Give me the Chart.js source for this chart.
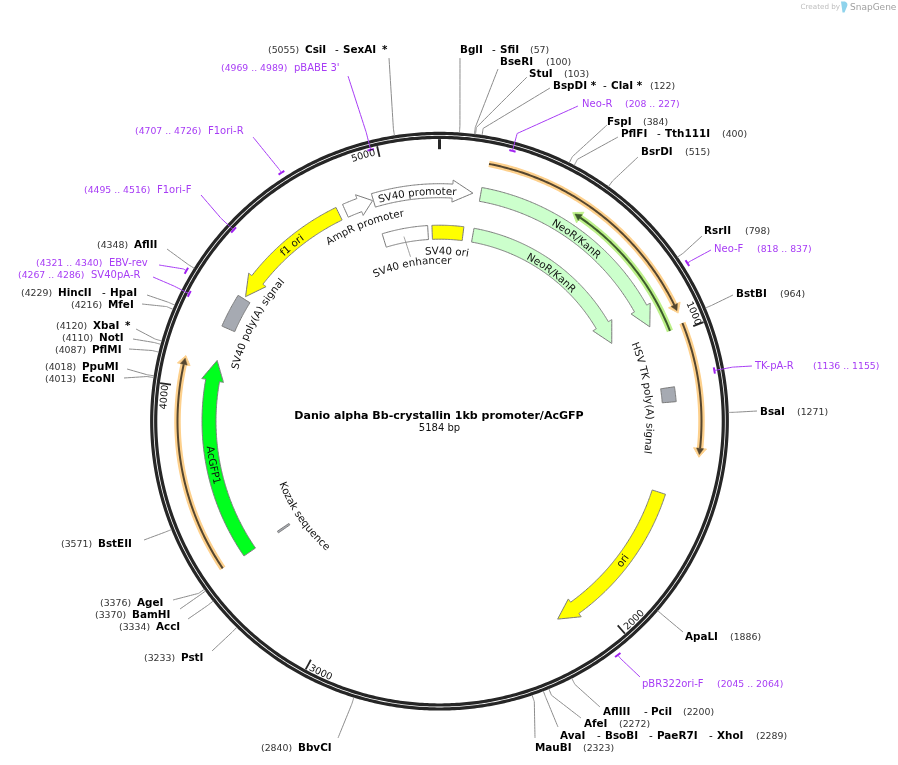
<!DOCTYPE html>
<html><head><meta charset="utf-8">
<style>html,body{margin:0;padding:0;background:#fff}canvas{display:block}</style>
<script src="https://cdn.jsdelivr.net/npm/chart.js@4"></script>
</head><body><canvas id="c" width="898" height="765"></canvas>
<script>
// ---------- data ----------
const plasmidName = "Danio alpha Bb-crystallin 1kb promoter/AcGFP";
const plasmidLength = 5184;
const tickSites = [1000, 2000, 3000, 4000, 5000];

const featureNames  = ["SV40 promoter","AmpR promoter","f1 ori","SV40 poly(A) signal","NeoR/KanR","NeoR/KanR","HSV TK poly(A) signal","ori","AcGFP1","Kozak sequence","SV40 enhancer","SV40 ori"];
const featureStart  = [4944,4837,4359,4228,148,146,1176,1554,3390,3388,4939,5152];
const featureEnd    = [120,4941,4812,4349,948,946,1228,2148,4108,3396,5134,103];
const featureStrand = [1,1,-1,0,1,1,0,1,1,0,0,0];

const orfStart  = [157,979,3396,469];
const orfEnd    = [945,1410,4097,988];
const orfStrand = [1,1,1,-1];

const enzymeNames = ["CsiI - SexAI *","BglI - SfiI","BseRI","StuI","BspDI * - ClaI *","FspI","PflFI - Tth111I","BsrDI","RsrII","BstBI","BsaI","ApaLI","AflIII - PciI","AfeI","AvaI - BsoBI - PaeR7I - XhoI","MauBI","BbvCI","PstI","AccI","BamHI","AgeI","BstEII","EcoNI","PpuMI","PflMI","NotI","XbaI *","MfeI","HincII - HpaI","AflII"];
const enzymeSites = [5055,57,100,103,122,384,400,515,798,964,1271,1886,2200,2272,2289,2323,2840,3233,3334,3370,3376,3571,4013,4018,4087,4110,4120,4216,4229,4348];

const primerNames = ["pBABE 3'","F1ori-R","F1ori-F","EBV-rev","SV40pA-R","Neo-R","Neo-F","TK-pA-R","pBR322ori-F"];
const primerStart = [4969,4707,4495,4321,4267,208,818,1136,2045];
const primerEnd   = [4989,4726,4516,4340,4286,227,837,1155,2064];

// ---------- layout and style (pixels, not data) ----------
const CX = 439.5, CY = 421.2, W = 898, H = 765;
const RING_OUT = 287.8, RING_IN = 283.8;
const F_OUT = 230.5, F_IN = 189;
const PURPLE = "#a73cf5", NUMC = "#333", BOLD = "bold 10.4px 'DejaVu Sans'", NUMF = "9.4px 'DejaVu Sans'", PRIF = "10px 'DejaVu Sans'", INF = "10.3px 'DejaVu Sans'";

const featureLook = [
 {r:F_OUT, c:"#ffffff", lab:[226.5,-5.6,0]},
 {r:F_OUT, c:"#ffffff", head:14, lab:[208,-21,0]},
 {r:F_OUT, c:"#ffff00", lab:[226.5,-40,0]},
 {r:F_OUT, c:"#a6aab2", lab:[208,-61.9,0]},
 {r:F_OUT, c:"#ccffcc", lab:[226,36.9,0]},
 {r:F_IN,  c:"#ccffcc", lab:[184,37,0]},
 {r:F_OUT, c:"#a6aab2", lab:[207,83.5,0]},
 {r:F_OUT, c:"#ffff00", lab:[233.5,127.3,1]},
 {r:F_OUT, c:"#00ff1e", lab:[234,259,1]},
 {r:F_IN,  c:"#a6aab2", lab:[172,234.9,1]},
 {r:F_IN,  c:"#ffffff", lab:[157.5,-10,0]},
 {r:F_IN,  c:"#ffff00", lab:[167,2.5,0]}
];
const orfLook = [["#fdd08c","#55462f"],["#fdd08c","#55462f"],["#fdd08c","#55462f"],["#bdf08a","#3c5a2c"]];

// [x end of leader, y end of leader]
const enzymeEnds = [[389,58],[460,58],[498,69],[527,77],[550,88],[607,125],[618,137],[638,157],[702,236],[733,295],[757,411],[683,632],[600,707],[581,718],[558,727],[535,738],[338,738],[212,651],[188,619],[180,609],[173,600],[144,540],[124,378],[127,369],[129,349],[133,339],[136,329],[142,304],[147,295],[167,249]];
const primerEnds = [[348,76],[253,137],[201,195],[159,265],[153,277],[578,106],[711,250],[752,366],[640,677]];
const primerR    = [280,294.5,281,294.5,280.8,280,294,279.5,294];

// rows of text runs: y, then [x, text, kind]; b=bold name, n=number, p=primer name, q=primer range
const textRows = [
 [50,[268,"(5055)","n"],[305,"CsiI","b"],[335,"-","b0"],[343,"SexAI","b"],[382,"*","b"]],
 [68,[221,"(4969 .. 4989)","q"],[294,"pBABE 3'","p"]],
 [50,[460,"BglI","b"],[492,"-","b0"],[500,"SfiI","b"],[530,"(57)","n"]],
 [62,[500,"BseRI","b"],[546,"(100)","n"]],
 [74,[529,"StuI","b"],[564,"(103)","n"]],
 [86,[553,"BspDI *","b"],[603,"-","b0"],[611,"ClaI *","b"],[650,"(122)","n"]],
 [104,[582,"Neo-R","p"],[625,"(208 .. 227)","q"]],
 [122,[607,"FspI","b"],[643,"(384)","n"]],
 [134,[621,"PflFI","b"],[657,"-","b0"],[665,"Tth111I","b"],[722,"(400)","n"]],
 [152,[641,"BsrDI","b"],[685,"(515)","n"]],
 [231,[704,"RsrII","b"],[745,"(798)","n"]],
 [249,[714,"Neo-F","p"],[757,"(818 .. 837)","q"]],
 [294,[736,"BstBI","b"],[780,"(964)","n"]],
 [366,[755,"TK-pA-R","p"],[813,"(1136 .. 1155)","q"]],
 [412,[760,"BsaI","b"],[797,"(1271)","n"]],
 [637,[685,"ApaLI","b"],[730,"(1886)","n"]],
 [684,[642,"pBR322ori-F","p"],[717,"(2045 .. 2064)","q"]],
 [712,[603,"AflIII","b"],[644,"-","b0"],[651,"PciI","b"],[683,"(2200)","n"]],
 [724,[584,"AfeI","b"],[619,"(2272)","n"]],
 [736,[560,"AvaI","b"],[597,"-","b0"],[605,"BsoBI","b"],[649,"-","b0"],[657,"PaeR7I","b"],[709,"-","b0"],[717,"XhoI","b"],[756,"(2289)","n"]],
 [748,[535,"MauBI","b"],[583,"(2323)","n"]],
 [748,[261,"(2840)","n"],[298,"BbvCI","b"]],
 [658,[144,"(3233)","n"],[181,"PstI","b"]],
 [627,[119,"(3334)","n"],[156,"AccI","b"]],
 [615,[95,"(3370)","n"],[132,"BamHI","b"]],
 [603,[100,"(3376)","n"],[137,"AgeI","b"]],
 [544,[61,"(3571)","n"],[98,"BstEII","b"]],
 [379,[45,"(4013)","n"],[82,"EcoNI","b"]],
 [367,[45,"(4018)","n"],[82,"PpuMI","b"]],
 [350,[55,"(4087)","n"],[92,"PflMI","b"]],
 [338,[62,"(4110)","n"],[99,"NotI","b"]],
 [326,[56,"(4120)","n"],[93,"XbaI","b"],[125,"*","b"]],
 [305,[71,"(4216)","n"],[108,"MfeI","b"]],
 [293,[21,"(4229)","n"],[58,"HincII","b"],[102,"-","b0"],[110,"HpaI","b"]],
 [245,[97,"(4348)","n"],[134,"AflII","b"]],
 [275,[18,"(4267 .. 4286)","q"],[91,"SV40pA-R","p"]],
 [263,[36,"(4321 .. 4340)","q"],[109,"EBV-rev","p"]],
 [190,[84,"(4495 .. 4516)","q"],[157,"F1ori-F","p"]],
 [131,[135,"(4707 .. 4726)","q"],[208,"F1ori-R","p"]]
];
const tickLook = [[67,0],[135.6,1],[205.3,1],[275,0],[-16,0]];

// ---------- geometry from bp ----------
const deg = bp => bp / plasmidLength * 360;
const rad = d => d * Math.PI / 180;
const polarDeg = (d, r) => ({x: r * Math.sin(rad(d)), y: r * Math.cos(rad(d))});
const polar = (bp, r) => polarDeg(deg(bp), r);
const fromPx = (x, y) => ({x: x - CX, y: CY - y});

function arcPts(d0, d1, r) {
  const n = Math.max(1, Math.ceil(Math.abs(d1 - d0)));
  const out = [];
  for (let i = 0; i <= n; i++) out.push(polarDeg(d0 + (d1 - d0) * i / n, r));
  return out;
}
function span(s, e) { let a = deg(s), b = deg(e); if (b < a) b += 360; return [a, b]; }

const datasets = [];
function add(data, o) {
  // a very small tension keeps Chart.js off its per-pixel "fast path", which would facet near-vertical arcs
  datasets.push(Object.assign({type:"scatter", data, showLine:true, pointRadius:0, pointHoverRadius:0, tension:0.001,
    borderColor:"#000", borderWidth:1, backgroundColor:"transparent", fill:false, order:-datasets.length,
    borderCapStyle:"butt", borderJoinStyle:"miter"}, o));
}

// backbone
add(arcPts(0,360,RING_OUT), {label:"backbone outer", borderColor:"#262626", borderWidth:3.2});
add(arcPts(0,360,RING_IN),  {label:"backbone inner", borderColor:"#262626", borderWidth:3.2});
// ticks
add([polarDeg(0,282),polarDeg(0,272)], {label:"origin", borderColor:"#262626", borderWidth:3});
tickSites.forEach(t => add([polar(t,282),polar(t,271)], {label:"tick "+t, borderColor:"#262626", borderWidth:1.8}));

// features
featureNames.forEach((name,i) => {
  const L = featureLook[i], [a,b] = span(featureStart[i], featureEnd[i]);
  const ro = L.r + 7, ri = L.r - 7, pts = [];
  const sd = featureStrand[i];
  if (sd === 0) {
    pts.push(...arcPts(a,b,ro), ...arcPts(b,a,ri));
  } else {
    const hd = (L.head || 20.5) / L.r * 180 / Math.PI;
    const tail = sd > 0 ? a : b, tip = sd > 0 ? b : a, base = tip - sd * hd;
    pts.push(...arcPts(tail,base,ro), polarDeg(base,L.r+11), polarDeg(tip,L.r), polarDeg(base,L.r-11), ...arcPts(base,tail,ri));
  }
  pts.push(pts[0]);
  add(pts, {label:name, fill:"shape", backgroundColor:L.c, borderColor:"#7a7a7a", borderWidth:1});
});
// enhancer callout
add([polarDeg(-10.9,188),polarDeg(-10,167)], {label:"SV40 enhancer leader", borderColor:"#888", borderWidth:.8});

// open reading frames
const ORF_R = [262,262,262,247.5];
orfStart.forEach((s,i) => {
  const [a,b] = span(s, orfEnd[i]), sd = orfStrand[i], r = ORF_R[i];
  const tail = sd>0?a:b, tip = sd>0?b:a, hd = 9/r*180/Math.PI, base = tip - sd*hd;
  add(arcPts(tail,base,r), {label:"orf halo", borderColor:orfLook[i][0], borderWidth:6.5});
  add([polarDeg(base,r+6.5),polarDeg(tip,r),polarDeg(base,r-6.5),polarDeg(base,r+6.5)], {label:"orf head halo", fill:"shape", backgroundColor:orfLook[i][0], borderColor:orfLook[i][0], borderWidth:1});
  add(arcPts(tail,base,r), {label:"orf", borderColor:orfLook[i][1], borderWidth:2});
  add([polarDeg(base,r+3.5),polarDeg(tip+(-sd*0.6),r),polarDeg(base,r-3.5),polarDeg(base,r+3.5)], {label:"orf head", fill:"shape", backgroundColor:orfLook[i][1], borderColor:orfLook[i][1], borderWidth:.5});
});

// enzyme leaders
enzymeNames.forEach((name,i) => {
  const p = enzymeEnds[i];
  add([polar(enzymeSites[i],289), polar(enzymeSites[i],296), fromPx(p[0],p[1])], {label:name, borderColor:"#8c8c8c", borderWidth:1, borderJoinStyle:"round"});
});
// primers
primerNames.forEach((name,i) => {
  const [a,b] = span(primerStart[i], primerEnd[i]), r = primerR[i], m = (a+b)/2, p = primerEnds[i];
  add(arcPts(a,b,r), {label:name, borderColor:"#a01ff0", borderWidth:2});
  add([polarDeg(m,r), polarDeg(m,Math.max(r,298)), fromPx(p[0],p[1])], {label:name+" leader", borderColor:PURPLE, borderWidth:1, borderJoinStyle:"round"});
});

// ---------- text ----------
function arcText(ctx, text, font, color, dCenter, rBase, flip) {
  ctx.save();
  ctx.font = font; ctx.fillStyle = color; ctx.textAlign = "left"; ctx.textBaseline = "alphabetic";
  const total = ctx.measureText(text).width, dir = flip ? -1 : 1;
  let pos = -total / 2;
  for (let i = 0; i < text.length; i++) {
    const w = ctx.measureText(text.slice(0,i+1)).width - ctx.measureText(text.slice(0,i)).width;
    const ang = rad(dCenter) + dir * (pos + w/2) / rBase;
    const x = CX + rBase * Math.sin(ang), y = CY - rBase * Math.cos(ang);
    ctx.save();
    ctx.translate(x, y);
    ctx.rotate(flip ? ang + Math.PI : ang);
    ctx.fillText(text[i], -w/2, 0);
    ctx.restore();
    pos += w;
  }
  ctx.restore();
}
const labels = {
  id:"labels",
  afterDatasetsDraw(chart) {
    const ctx = chart.ctx;
    ctx.save();
    ctx.textBaseline = "middle"; ctx.textAlign = "left";
    textRows.forEach(row => {
      const y = row[0] + 0.6;
      row.slice(1).forEach(([x,t,k]) => {
        ctx.font = k==="n"?NUMF : k==="q"?"9.3px 'DejaVu Sans'" : k==="p"?PRIF : k==="b0"?"10.4px 'DejaVu Sans'" : BOLD;
        ctx.fillStyle = k==="n"?NUMC : (k==="q"||k==="p")?PURPLE : "#000";
        ctx.fillText(t,x,y);
      });
    });
    // title
    ctx.textAlign = "center";
    ctx.font = "bold 11.05px 'DejaVu Sans'"; ctx.fillStyle="#000";
    ctx.fillText(plasmidName, 439, 416);
    ctx.font = "10px 'DejaVu Sans'"; ctx.fillStyle="#111";
    ctx.fillText(plasmidLength + " bp", 439.5, 428.5);
    // credit
    ctx.textAlign = "left";
    ctx.font = "7.2px 'DejaVu Sans'"; ctx.fillStyle="#bdbdbd";
    ctx.fillText("Created by", 800.5, 7.5);
    ctx.font = "9px 'DejaVu Sans'"; ctx.fillStyle="#a0a0a0";
    ctx.fillText("SnapGene", 850, 7.5);
    // credit logo
    ctx.fillStyle = "#8fd3ec";
    ctx.beginPath();
    ctx.moveTo(841,1.5); ctx.lineTo(845,1.5);
    ctx.quadraticCurveTo(848.5,3,847,6.5);
    ctx.lineTo(844.5,12.5); ctx.lineTo(842.5,12.5);
    ctx.closePath(); ctx.fill();
    ctx.restore();
    featureNames.forEach((n,i) => {
      const l = featureLook[i].lab;
      arcText(ctx, n, INF, "#111", l[1], l[0], !!l[2]);
    });
    tickSites.forEach((t,i) => {
      arcText(ctx, String(t), "9.6px 'DejaVu Sans'", "#111", tickLook[i][0], tickLook[i][1]?281:273.5, !!tickLook[i][1]);
    });
  }
};

new Chart(document.getElementById("c"), {
  type:"scatter",
  data:{datasets},
  plugins:[labels],
  options:{
    responsive:false, animation:false, devicePixelRatio:1,
    layout:{padding:0},
    plugins:{legend:{display:false}, tooltip:{enabled:false}},
    events:[],
    scales:{
      x:{type:"linear", min:-CX, max:W-CX, display:false},
      y:{type:"linear", min:CY-H, max:CY, display:false}
    }
  }
});
</script></body></html>
